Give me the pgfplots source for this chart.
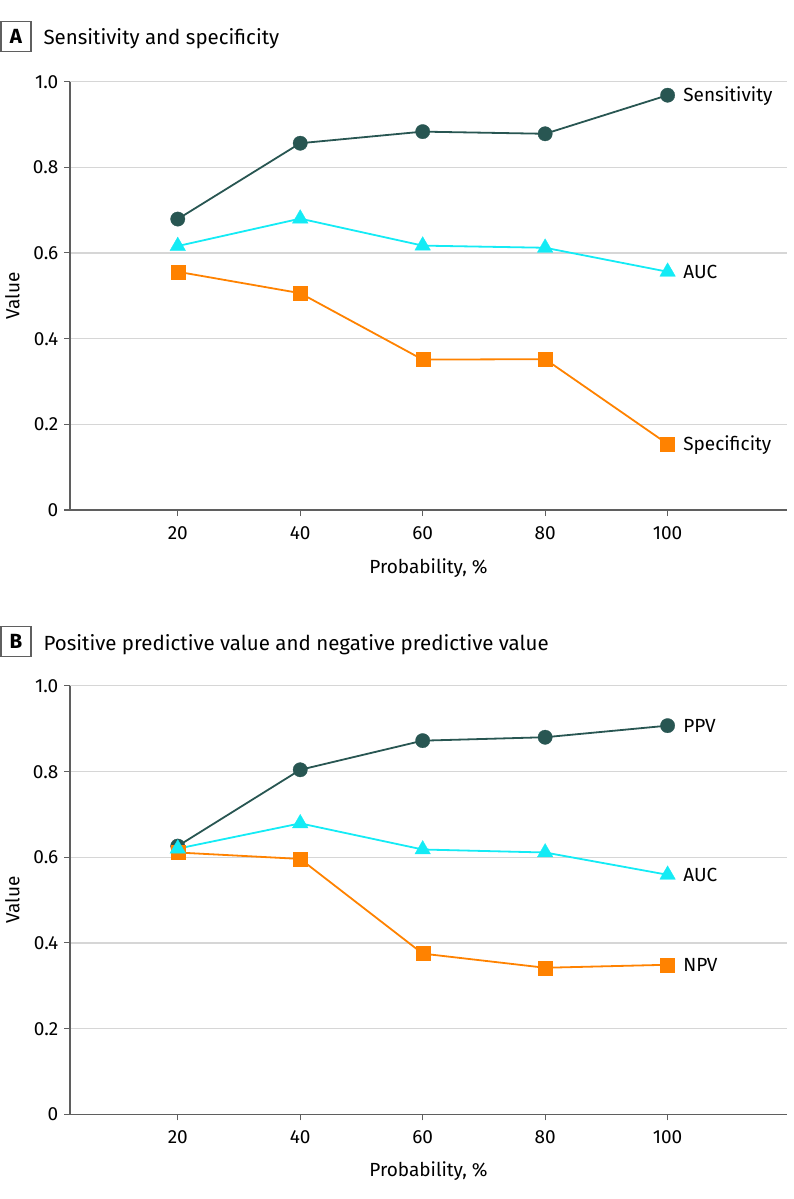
\documentclass[border=0pt]{standalone}
\usepackage{fontspec}
\setmainfont{Fira Sans}
\usepackage{pgfplots}
\pgfplotsset{compat=1.18}
\definecolor{sens}{RGB}{40,86,82}
\definecolor{auc}{RGB}{20,235,245}
\definecolor{spec}{RGB}{255,130,0}
\definecolor{gridc}{RGB}{214,214,214}
\definecolor{axc}{RGB}{95,95,95}
\newcommand\tf{\fontsize{19bp}{22bp}\selectfont}
\newcommand\ttf{\fontsize{20.5bp}{24bp}\selectfont}
\pgfplotsset{
 panel/.style={
  scale only axis, width=717bp, height=428.5bp,
  xmin=2.4, xmax=119.5, ymin=0, ymax=1,
  axis x line*=bottom, axis y line*=left,
  axis line style={draw=axc, line width=1.3bp},
  xtick={20,40,60,80,100}, xticklabels={20,40,60,80,100},
  ytick={0,0.2,0.4,0.6,0.8,1}, yticklabels={0,0.2,0.4,0.6,0.8,1.0},
  tick align=outside, major tick length=6bp,
  tick style={draw=axc, line width=1.1bp},
  ymajorgrids, grid style={draw=gridc, line width=1.3bp},
  ticklabel style={font=\tf, inner sep=0pt, outer sep=0pt},
  xticklabel style={anchor=base, yshift=-23bp},
  yticklabel style={anchor=base east, yshift=-6.5bp, xshift=-5.7bp},
  clip=false,
 },
 sline/.style={draw=sens, line width=1.8bp, mark=*, mark size=7.2bp, mark options={fill=sens, draw=sens, line width=0.3bp}},
 aline/.style={draw=auc, line width=1.8bp, mark=triangle*, mark size=9bp, mark options={fill=auc, draw=auc, line width=0.3bp}},
 pline/.style={draw=spec, line width=1.8bp, mark=square*, mark size=7bp, mark options={fill=spec, draw=spec, line width=0.3bp}},
}
\tikzset{lab/.style={anchor=base west, inner sep=0pt, font=\tf, xshift=15.5bp, yshift=-6.5bp}}
\begin{document}
\begin{tikzpicture}
\useasboundingbox (0,0) rectangle (794bp,-1199bp);
% Panel A
\node[draw=axc, line width=1.3bp, minimum size=30bp, inner sep=0pt, font=\ttf\bfseries] at (16bp,-36.5bp) {A};
\node[anchor=base west, inner sep=0pt, font=\ttf] at (43.3bp,-44.3bp) {Sensitivity and specificity};
\node[rotate=90, anchor=base, inner sep=0pt, font=\tf] at (19.3bp,-296bp) {Value};
\node[anchor=base, inner sep=0pt, font=\tf] at (428.5bp,-573bp) {Probability, \%};
\begin{axis}[panel, at={(70bp,-510bp)}, anchor=south west]
\addplot[sline] coordinates {(20,0.679) (40,0.856) (60,0.883) (80,0.878) (100,0.968)};
\addplot[pline] coordinates {(20,0.556) (40,0.506) (60,0.351) (80,0.352) (100,0.154)};
\addplot[aline] coordinates {(20,0.616) (40,0.680) (60,0.617) (80,0.612) (100,0.556)};
\node[lab] at (axis cs:100,0.968) {Sensitivity};
\node[lab] at (axis cs:100,0.556) {AUC};
\node[lab] at (axis cs:100,0.154) {Specificity};
\end{axis}
% Panel B
\node[draw=axc, line width=1.3bp, minimum size=30bp, inner sep=0pt, font=\ttf\bfseries] at (16bp,-641.3bp) {B};
\node[anchor=base west, inner sep=0pt, font=\ttf] at (43.3bp,-650bp) {Positive predictive value and negative predictive value};
\node[rotate=90, anchor=base, inner sep=0pt, font=\tf] at (19.3bp,-900bp) {Value};
\node[anchor=base, inner sep=0pt, font=\tf] at (428.5bp,-1176.7bp) {Probability, \%};
\begin{axis}[panel, at={(70bp,-1114.3bp)}, anchor=south west]
\addplot[sline] coordinates {(20,0.626) (40,0.804) (60,0.872) (80,0.880) (100,0.907)};
\addplot[pline] coordinates {(20,0.611) (40,0.596) (60,0.375) (80,0.342) (100,0.349)};
\addplot[aline] coordinates {(20,0.620) (40,0.679) (60,0.618) (80,0.611) (100,0.559)};
\node[lab] at (axis cs:100,0.907) {PPV};
\node[lab] at (axis cs:100,0.559) {AUC};
\node[lab] at (axis cs:100,0.349) {NPV};
\end{axis}
\end{tikzpicture}
\end{document}
